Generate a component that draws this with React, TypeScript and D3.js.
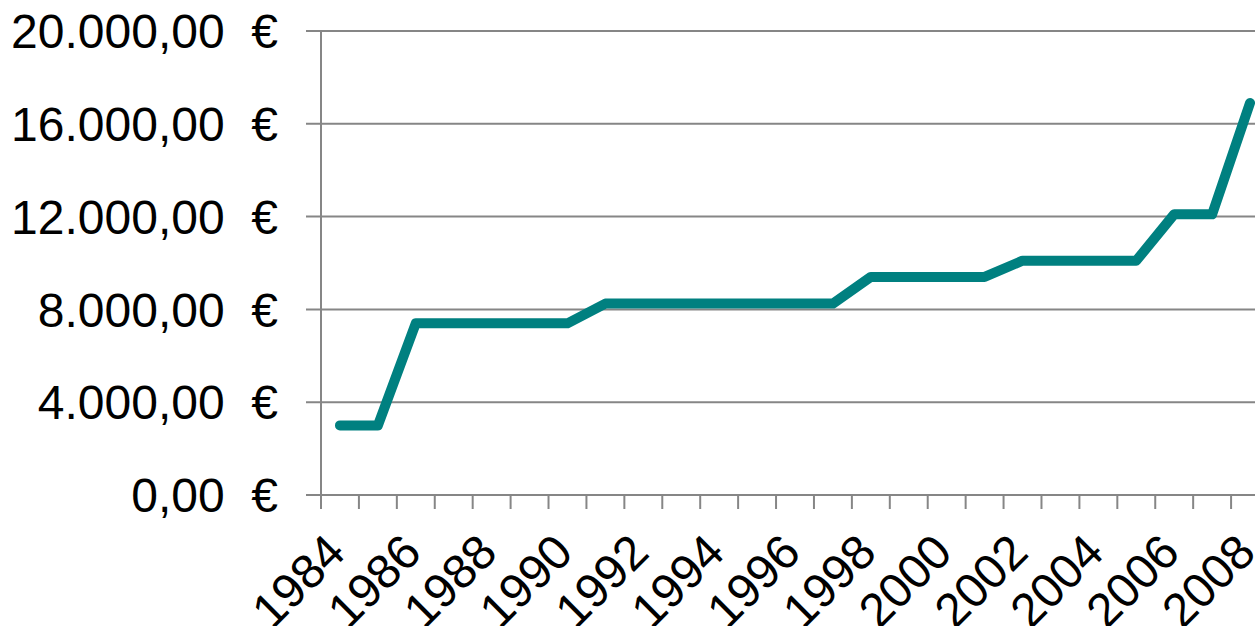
import * as d3 from "d3";
import React from "react";

const years = d3.range(1984, 2009).map(String);
const values = [
  3000, 3000, 7400, 7400, 7400, 7400, 7400, 8250, 8250, 8250, 8250, 8250, 8250,
  8250, 9400, 9400, 9400, 9400, 10100, 10100, 10100, 10100, 12100, 12100, 16900,
];
const yTicks = [0, 4000, 8000, 12000, 16000, 20000];
const xLabels = years.filter((_, i) => i % 2 === 0);

const W = 1255;
const H = 626;
const margin = { left: 321, top: 31 };
const plotW = 25 * 37.92;
const plotH = 464;

const fmt = (v: number) => {
  const s = d3.format(",.2f")(v);
  return s.replace(/,/g, "#").replace(".", ",").replace(/#/g, ".") + "  €";
};

export default function App() {
  const x = d3
    .scaleBand()
    .domain(years)
    .range([margin.left, margin.left + plotW]);
  const y = d3
    .scaleLinear()
    .domain([0, 20000])
    .range([margin.top + plotH, margin.top]);
  const cx = (yr: string) => (x(yr) as number) + x.bandwidth() / 2;

  const line = d3
    .line<number>()
    .x((_, i) => cx(years[i]))
    .y((d) => y(d));

  const font = "'Liberation Sans', Arial, sans-serif";
  const axisColor = "#868686";
  const y0 = y(0);

  return (
    <svg
      width={W}
      height={H}
      style={{ position: "absolute", left: 0, top: 0, background: "#fff" }}
      fontFamily={font}
    >
      {/* grid + y ticks */}
      {yTicks.map((t) => (
        <g key={t}>
          <line
            x1={margin.left - 15}
            x2={margin.left + plotW}
            y1={y(t)}
            y2={y(t)}
            stroke={axisColor}
            strokeWidth={2}
          />
          <text
            x={278}
            y={y(t)}
            dy="0.36em"
            textAnchor="end"
            fontSize={48}
            fill="#000"
            style={{ whiteSpace: "pre" }}
          >
            {fmt(t)}
          </text>
        </g>
      ))}
      {/* y axis */}
      <line
        x1={margin.left}
        x2={margin.left}
        y1={margin.top}
        y2={y0 + 14}
        stroke={axisColor}
        strokeWidth={2}
      />
      {/* x ticks at category boundaries */}
      {years.map((yr) => (
        <line
          key={yr}
          x1={(x(yr) as number) + x.bandwidth()}
          x2={(x(yr) as number) + x.bandwidth()}
          y1={y0}
          y2={y0 + 14}
          stroke={axisColor}
          strokeWidth={2}
        />
      ))}
      {/* x labels */}
      {xLabels.map((yr) => (
        <text
          key={yr}
          transform={`translate(${cx(yr) - 16},${y0 + 36}) rotate(-45)`}
          textAnchor="end"
          dy="0.7em"
          fontSize={48}
          fill="#000"
        >
          {yr}
        </text>
      ))}
      <path
        d={line(values) || ""}
        fill="none"
        stroke="#008080"
        strokeWidth={10}
        strokeLinejoin="round"
        strokeLinecap="round"
      />
    </svg>
  );
}
